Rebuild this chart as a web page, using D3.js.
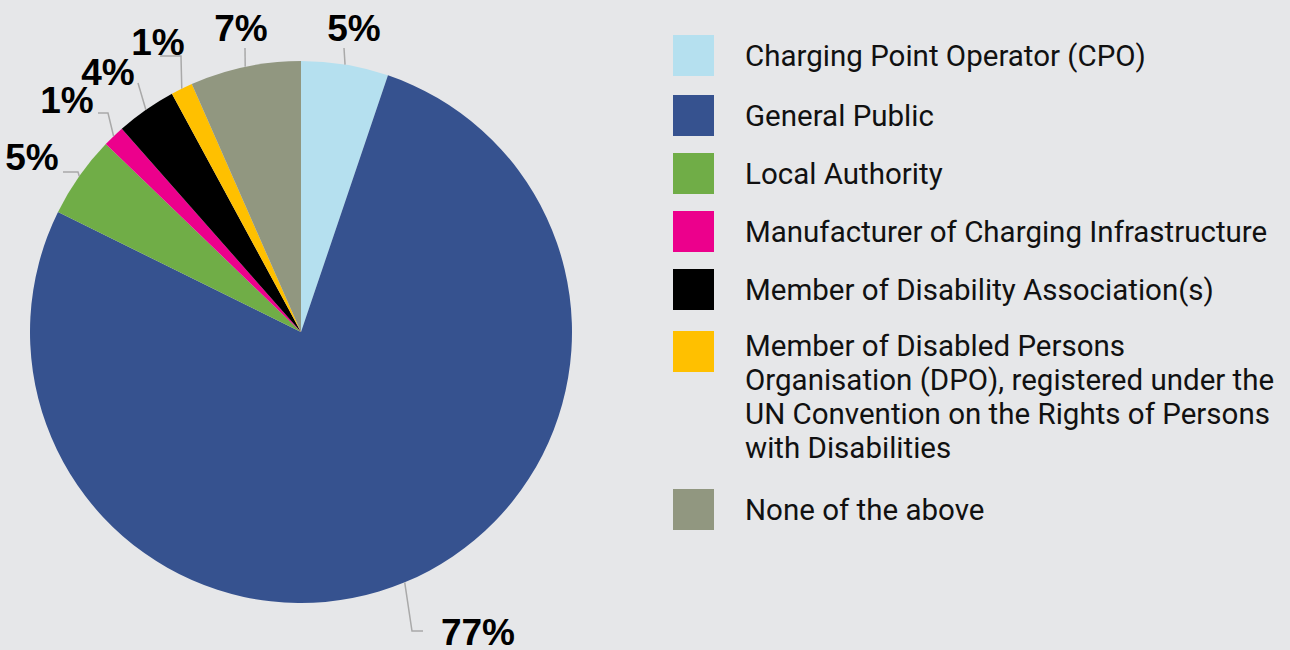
<!DOCTYPE html>
<html>
<head>
<meta charset="utf-8">
<script src="https://cdn.jsdelivr.net/npm/d3@7"></script>
<style>
  body { margin: 0; background: #e6e7e9; }
  svg { display: block; }
</style>
</head>
<body>
<div id="chart"></div>
<script>
// data
var categories = [
  "Charging Point Operator (CPO)",
  "General Public",
  "Local Authority",
  "Manufacturer of Charging Infrastructure",
  "Member of Disability Association(s)",
  "Member of Disabled Persons Organisation (DPO), registered under the UN Convention on the Rights of Persons with Disabilities",
  "None of the above"
];
var shares = [5.2, 77.1, 4.9, 1.3, 3.6, 1.3, 6.6];
var colors = ["#b5e0ef", "#36528f", "#70ad47", "#ec008c", "#000000", "#ffc000", "#919780"];
// legend lines (wrapped as in the original)
var legendLines = [
  ["Charging Point Operator (CPO)"],
  ["General Public"],
  ["Local Authority"],
  ["Manufacturer of Charging Infrastructure"],
  ["Member of Disability Association(s)"],
  ["Member of Disabled Persons", "Organisation (DPO), registered under the", "UN Convention on the Rights of Persons", "with Disabilities"],
  ["None of the above"]
];

// layout of the percent labels: text spot, leader start, leader elbow
var labelLayout = [
  { tx: 354, ty: 41,  sx: 344, sy: 48,  ex: 344, ey: 48 },
  { tx: 478, ty: 645, sx: 423, sy: 631, ex: 412, ey: 631 },
  { tx: 32,  ty: 170, sx: 63,  sy: 172, ex: 78,  ey: 172 },
  { tx: 67,  ty: 113, sx: 98,  sy: 113, ex: 108, ey: 113 },
  { tx: 108, ty: 85,  sx: 138, sy: 83,  ex: 138, ey: 83 },
  { tx: 158, ty: 55,  sx: 160, sy: 56,  ex: 181, ey: 56 },
  { tx: 241, ty: 41,  sx: 245, sy: 48,  ex: 245, ey: 48 }
];

var svgWidth = 1290, svgHeight = 650;
var cx = 301, cy = 332, radius = 271;

var svg = d3.select("#chart").append("svg")
  .attr("width", svgWidth)
  .attr("height", svgHeight);

svg.append("rect")
  .attr("width", svgWidth).attr("height", svgHeight)
  .attr("fill", "#e6e7e9");

var data = categories.map(function(c, i) {
  return { name: c, value: shares[i], color: colors[i], layout: labelLayout[i] };
});

var pie = d3.pie().value(d => d.value).sort(null);
var arc = d3.arc().innerRadius(0).outerRadius(radius);
var arcs = pie(data);

var pieGroup = svg.append("g")
  .attr("transform", `translate(${cx}, ${cy})`);

pieGroup.selectAll("path")
  .data(arcs)
  .enter()
  .append("path")
  .attr("d", arc)
  .attr("fill", d => d.data.color);

// leader lines
svg.selectAll("polyline.leader")
  .data(arcs)
  .enter()
  .append("polyline")
  .attr("class", "leader")
  .attr("fill", "none")
  .attr("stroke", "#a9a9a9")
  .attr("stroke-width", 1.5)
  .attr("points", function(d) {
    var mid = (d.startAngle + d.endAngle) / 2;
    var px = cx + radius * Math.sin(mid);
    var py = cy - radius * Math.cos(mid);
    var L = d.data.layout;
    return [[L.sx, L.sy], [L.ex, L.ey], [px, py]].map(p => p.join(",")).join(" ");
  });

// percent labels
svg.selectAll("text.pct")
  .data(arcs)
  .enter()
  .append("text")
  .attr("class", "pct")
  .attr("x", d => d.data.layout.tx)
  .attr("y", d => d.data.layout.ty)
  .attr("text-anchor", "middle")
  .attr("font-family", "Liberation Sans, Arial, sans-serif")
  .attr("font-weight", "bold")
  .attr("font-size", 37)
  .attr("fill", "#000")
  .text(d => Math.round(d.data.value) + "%");

// legend
var legendTops = [35, 95, 153, 211, 269, 331, 489];
var legend = svg.append("g");

var items = legend.selectAll("g.item")
  .data(data)
  .enter()
  .append("g")
  .attr("class", "item")
  .attr("transform", (d, i) => `translate(673, ${legendTops[i]})`);

items.append("rect")
  .attr("width", 41)
  .attr("height", 41)
  .attr("fill", d => d.color);

var texts = items.append("text")
  .attr("font-family", "Roboto, sans-serif")
  .attr("font-size", 29)
  .attr("fill", "#111");

texts.selectAll("tspan")
  .data((d, i) => legendLines[i])
  .enter()
  .append("tspan")
  .attr("x", 0)
  .attr("y", function(d, j) {
    var n = this.parentNode.__data__ ? legendLines[categories.indexOf(this.parentNode.__data__.name)].length : 1;
    return (n > 1 ? 25 : 31) + j * 34;
  })
  .text(d => d);

// narrow the text to match the condensed face of the original
var probe = texts.filter((d, i) => i === 0).node();
var w = probe.getComputedTextLength();
var sx = 401 / w;
texts.attr("transform", `translate(72, 0) scale(${sx}, 1)`);
</script>
</body>
</html>
